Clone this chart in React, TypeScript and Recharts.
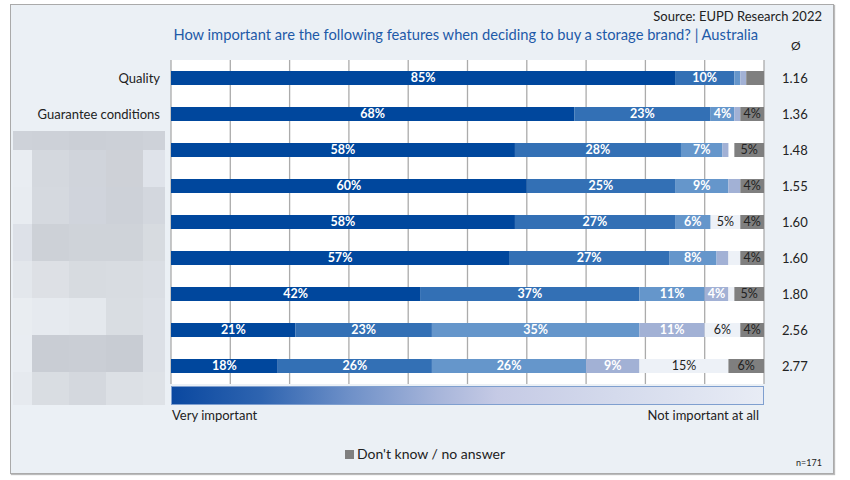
import { BarChart, Bar, XAxis, YAxis, CartesianGrid, LabelList } from "recharts";

// survey answers, one row per feature (share in %)
const features = ["Quality", "Guarantee conditions", "", "", "", "", "", "", ""];
const veryImportant = [85, 68, 58, 60, 58, 57, 42, 21, 18];
const important = [10, 23, 28, 25, 27, 27, 37, 23, 26];
const neutral = [1, 4, 7, 9, 6, 8, 11, 35, 26];
const lessImportant = [1, 1, 1, 2, 0, 2, 4, 11, 9];
const notImportant = [0, 0, 0, 1, 5, 2, 1, 6, 15];
const dontKnow = [3, 4, 5, 4, 4, 4, 5, 4, 6];
const averages = [1.16, 1.36, 1.48, 1.55, 1.6, 1.6, 1.8, 2.56, 2.77];

const data = features.map((name, i) => ({
  row: i,
  name,
  v1: veryImportant[i],
  v2: important[i],
  v3: neutral[i],
  v4: lessImportant[i],
  v5: notImportant[i],
  dk: dontKnow[i],
}));

const COLORS = ["#00479D", "#3370B5", "#6596CB", "#A2B1D5", "#EDF1F7"];
const FONT = "Lato, 'Noto Sans', sans-serif";

// pixelated block standing in for the blurred labels
const mosaic = [
  ["#CED2D9", "#CDD1D8", "#CBCFD6", "#CCD0D7", "#CED2D9"],
  ["#E9EDF2", "#D4D8DE", "#D0D4DB", "#CED1D7", "#DFE3EA"],
  ["#E8ECF1", "#D5D9DF", "#D0D4DC", "#CDD1D8", "#D3D7DE"],
  ["#DDE1E8", "#CDD1D7", "#CFD3D9", "#CFD3D9", "#D7DBE0"],
  ["#E3E7EC", "#DDE0E5", "#D7DBE0", "#D8DCE1", "#DADEE4"],
  ["#E9EDF1", "#E6EAEF", "#E4E8ED", "#D9DDE2", "#DCE0E6"],
  ["#E9EDF2", "#C9CDD4", "#CACED5", "#C8CCD3", "#DCE0E6"],
  ["#E6EAEF", "#D9DDE2", "#D4D8DE", "#DCE0E5", "#DEE2E7"],
];
const mosaicCols = [13, 32, 69, 106, 143, 165];
const mosaicRows = [131, 150, 187, 224, 261, 298, 335, 372, 405];

const makeLabel = (color: string, weight: number) => (props: any) => {
  const { x, y, width, height, value } = props;
  if (value == null || Number(value) < 4) return null;
  return (
    <text
      x={Number(x) + Number(width) / 2}
      y={Number(y) + Number(height) / 2 + 1}
      textAnchor="middle"
      dominantBaseline="middle"
      fill={color}
      fontSize={12.5}
      fontWeight={weight}
      fontFamily={FONT}
    >
      {value}%
    </text>
  );
};

export default function App() {
  return (
    <div style={{ position: "absolute", left: 0, top: 0, width: 850, height: 480, background: "#fff" }}>
      <div
        style={{
          position: "absolute",
          left: 10,
          top: 4,
          width: 822,
          height: 468,
          background: "#EBF0F5",
          border: "1px solid #AAAAAA",
          boxShadow: "1px 1px 1px #BBBBBB",
        }}
      />
      {mosaic.map((r, ri) =>
        r.map((c, ci) => (
          <div
            key={`m-${ri}-${ci}`}
            style={{
              position: "absolute",
              left: mosaicCols[ci],
              top: mosaicRows[ri],
              width: mosaicCols[ci + 1] - mosaicCols[ci],
              height: mosaicRows[ri + 1] - mosaicRows[ri],
              background: c,
            }}
          />
        ))
      )}
      <div style={{ position: "absolute", right: 28, top: 8, fontFamily: FONT, fontSize: 13, color: "#222" }}>
        Source: EUPD Research 2022
      </div>
      <div style={{ position: "absolute", right: 92, top: 25, fontFamily: FONT, fontSize: 14.7, color: "#1E5AA8" }}>
        How important are the following features when deciding to buy a storage brand? | Australia
      </div>
      <div style={{ position: "absolute", left: 791, top: 38, fontFamily: FONT, fontSize: 12, color: "#222" }}>Ø</div>
      <div
        style={{
          position: "absolute",
          left: 171,
          top: 386,
          width: 591,
          height: 17,
          border: "1px solid #7F9FCF",
          background:
            "linear-gradient(to right, #0A48A0 0%, #2E64B0 15%, #6E90C8 30%, #A7B5DA 45%, #C5CAE5 55%, #D4DAEC 75%, #E8ECF5 100%)",
        }}
      />
      <div style={{ position: "absolute", left: 172, top: 407, fontFamily: FONT, fontSize: 13, color: "#222" }}>
        Very important
      </div>
      <div style={{ position: "absolute", right: 91, top: 407, fontFamily: FONT, fontSize: 13, color: "#222" }}>
        Not important at all
      </div>
      <div
        style={{
          position: "absolute",
          left: 0,
          top: 445,
          width: 850,
          textAlign: "center",
          fontFamily: FONT,
          fontSize: 14,
          color: "#222",
        }}
      >
        <span style={{ display: "inline-block", width: 9, height: 9, background: "#7F7F7F", marginRight: 3 }} />
        Don&apos;t know / no answer
      </div>
      <div style={{ position: "absolute", left: 796, top: 457, fontFamily: FONT, fontSize: 9, color: "#222" }}>n=171</div>
      <div style={{ position: "absolute", left: 0, top: 0 }}>
        <BarChart
          width={850}
          height={480}
          data={data}
          layout="vertical"
          barSize={14}
          barGap={-14}
          margin={{ top: 60, right: 0, bottom: 96, left: 0 }}
        >
          <CartesianGrid horizontal={false} fill="#fff" stroke="#ABABAB" strokeWidth={1.3} />
          <XAxis type="number" domain={[0, 100]} ticks={[0, 10, 20, 30, 40, 50, 60, 70, 80, 90, 100]} hide />
          <YAxis
            type="category"
            dataKey="row"
            width={171}
            axisLine={false}
            tickLine={false}
            tickSize={0}
            tickMargin={11}
            tickFormatter={(i: number) => features[i]}
            tick={{ fill: "#222", fontSize: 13, fontFamily: FONT }}
          />
          <YAxis
            yAxisId="avg"
            orientation="right"
            type="category"
            dataKey="row"
            width={86}
            axisLine={false}
            tickLine={false}
            tickSize={0}
            tickMargin={18}
            tickFormatter={(i: number) => averages[i].toFixed(2)}
            tick={{ fill: "#222", fontSize: 13, fontFamily: FONT }}
          />
          {["v1", "v2", "v3", "v4", "v5"].map((k, i) => (
            <Bar key={k} dataKey={k} stackId="a" fill={COLORS[i]} isAnimationActive={false}>
              <LabelList dataKey={k} content={makeLabel(i < 4 ? "#fff" : "#222", i < 4 ? 700 : 400)} />
            </Bar>
          ))}
          <Bar dataKey={(d: any) => [100 - d.dk, 100]} fill="#7F7F7F" isAnimationActive={false}>
            <LabelList dataKey="dk" content={makeLabel("#222", 400)} />
          </Bar>
        </BarChart>
      </div>
    </div>
  );
}
